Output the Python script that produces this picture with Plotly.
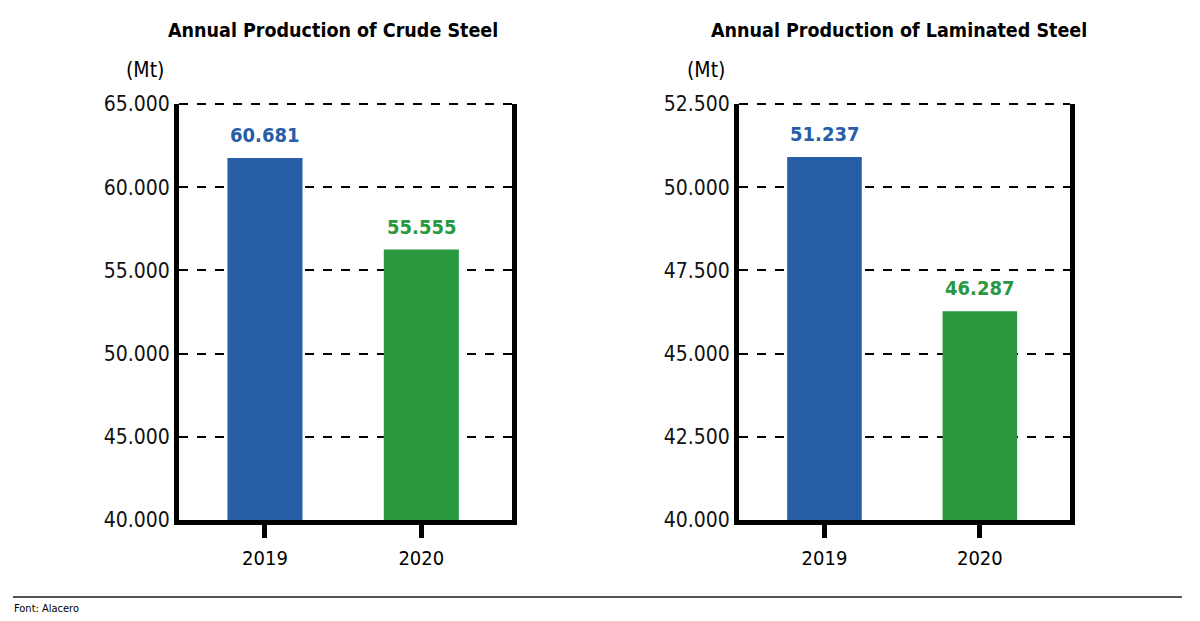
import plotly.graph_objects as go

years = ["2019", "2020"]
# bar heights as drawn in the picture, printed labels as shown above them
crude_bars = [61760, 56250]
crude_labels = ["60.681", "55.555"]
laminated_bars = [50910, 46270]
laminated_labels = ["51.237", "46.287"]

crude_ticks = [40000, 45000, 50000, 55000, 60000, 65000]
laminated_ticks = [40000, 42500, 45000, 47500, 50000, 52500]

bar_colors = ["#285EA8", "#2A983F"]
FONT = "DejaVu Sans Condensed, Roboto, sans-serif"

W, H = 1200, 621
OFF = 8  # page body margin, the figure is drawn 8px in from the corner


def px(x):
    return (x - OFF) / W


def py(y):
    return 1 - (y - OFF) / H


fig = go.Figure()

fig.add_trace(go.Bar(x=years, y=crude_bars, marker=dict(color=bar_colors, line=dict(width=0)),
                     width=0.48, xaxis="x", yaxis="y"))
fig.add_trace(go.Bar(x=years, y=laminated_bars, marker=dict(color=bar_colors, line=dict(width=0)),
                     width=0.48, xaxis="x2", yaxis="y2"))

# value labels above the bars (x given as category index)
for xr, yr, vals, labels in [("x", "y", crude_bars, crude_labels),
                             ("x2", "y2", laminated_bars, laminated_labels)]:
    for i, (v, lab, c) in enumerate(zip(vals, labels, bar_colors)):
        fig.add_annotation(x=i, y=v, xref=xr, yref=yr, text=lab, showarrow=False,
                           yanchor="bottom", yshift=9,
                           font=dict(size=20, family=FONT, color=c, weight="bold"))

xax = dict(type="category", range=[-0.55, 1.58], showline=True, linewidth=5,
           linecolor="black", ticks="outside", ticklen=13, tickwidth=5,
           tickcolor="black", showgrid=False, zeroline=False, automargin=False,
           ticklabelstandoff=3,
           tickfont=dict(size=20, family=FONT, color="black"))
yax = dict(showline=True, linewidth=5, linecolor="black", mirror=True,
           ticks="", showgrid=True, gridcolor="black", griddash="dash",
           gridwidth=2, zeroline=False, tickformat=",.0f", automargin=False,
           tickfont=dict(size=21, family=FONT, color="#111111"),
           domain=[py(520), py(104)])

fig.update_layout(
    width=W, height=H, showlegend=False,
    plot_bgcolor="white", paper_bgcolor="white",
    separators=",.",
    margin=dict(l=0, r=0, t=0, b=0, autoexpand=False),
    xaxis=dict(xax, domain=[px(179), px(512)], anchor="y"),
    yaxis=dict(yax, range=[40000, 65000], tickvals=crude_ticks, anchor="x"),
    xaxis2=dict(xax, domain=[px(739), px(1070)], anchor="y2"),
    yaxis2=dict(yax, range=[40000, 52500], tickvals=laminated_ticks, anchor="x2"),
)

# dashed line along the top edge of each plot area
for xr, yr in [("x domain", "y domain"), ("x2 domain", "y2 domain")]:
    fig.add_shape(type="line", xref=xr, yref=yr, x0=0, x1=1, y0=1, y1=1,
                  line=dict(color="black", width=2, dash="dash"), layer="below")

annos = [
    ("Annual Production of Crude Steel", 333, 30, 19.5, "bold", "center"),
    ("Annual Production of Laminated Steel", 899, 30, 19.5, "bold", "center"),
    ("(Mt)", 125, 70, 21, "normal", "left"),
    ("(Mt)", 686, 70, 21, "normal", "left"),
    ("Font: Alacero", 13, 608, 11, "normal", "left"),
]
for txt, x, y, size, weight, anchor in annos:
    fig.add_annotation(text=txt, x=px(x), y=py(y), xref="paper", yref="paper",
                       xanchor=anchor, yanchor="middle", showarrow=False, borderpad=0,
                       font=dict(size=size, family=FONT, color="black", weight=weight))

# footer rule
fig.add_shape(type="line", xref="paper", yref="paper", x0=px(13), x1=px(1182),
              y0=py(597), y1=py(597), line=dict(color="#555555", width=2))

fig.write_html("out.html")
